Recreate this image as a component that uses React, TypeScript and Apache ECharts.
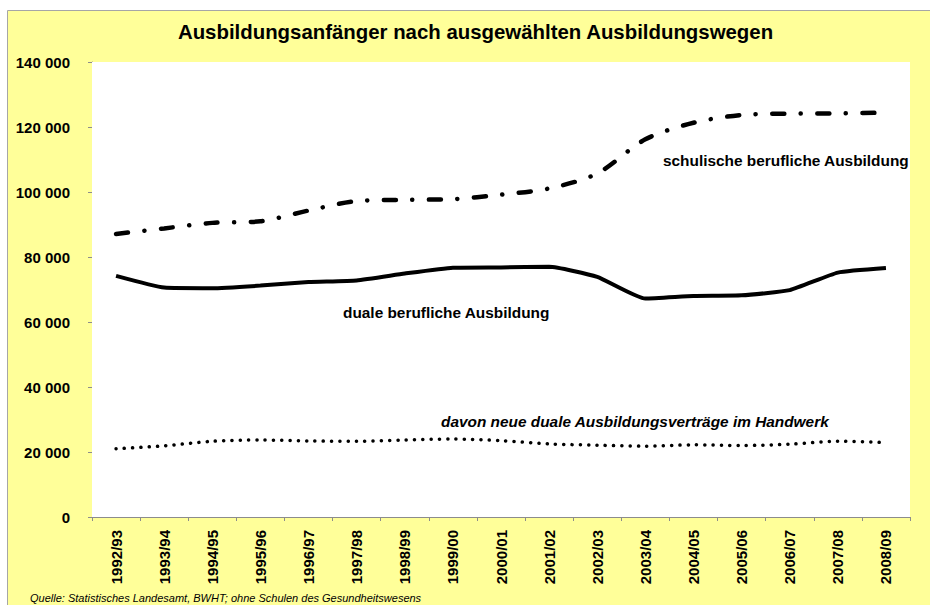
import React, { useEffect, useRef } from "react";
import * as echarts from "echarts";

const categories = [
  "1992/93", "1993/94", "1994/95", "1995/96", "1996/97", "1997/98", "1998/99", "1999/00",
  "2000/01", "2001/02", "2002/03", "2003/04", "2004/05", "2005/06", "2006/07", "2007/08", "2008/09",
];

const schulische = [87100, 88800, 90500, 91000, 94300, 97200, 97600, 97800, 99200, 101100, 105700, 116200, 121300, 123700, 124100, 124200, 124400];
const duale = [74200, 70600, 70400, 71200, 72300, 72800, 74900, 76700, 76800, 77000, 73900, 67200, 68000, 68200, 69800, 75200, 76600];
const handwerk = [21000, 21900, 23300, 23700, 23400, 23300, 23700, 24000, 23500, 22500, 22100, 21800, 22200, 22000, 22400, 23300, 22900];

const yMin = 0;
const yMax = 140000;
const yStep = 20000;

const titleText = "Ausbildungsanfänger nach ausgewählten Ausbildungswegen";
const sourceText = "Quelle: Statistisches Landesamt, BWHT; ohne Schulen des Gesundheitswesens";
const labelSchulisch = "schulische berufliche Ausbildung";
const labelDual = "duale berufliche Ausbildung";
const labelHandwerk = "davon neue duale Ausbildungsverträge im Handwerk";

const FONT = "'Liberation Sans', Arial, sans-serif";

export default function App() {
  const ref = useRef<HTMLDivElement>(null);

  useEffect(() => {
    if (!ref.current) return;
    const chart = echarts.init(ref.current, null, { renderer: "svg" });
    const fmt = (v: number) => String(v).replace(/\B(?=(\d{3})+(?!\d))/g, " ");
    chart.setOption({
      animation: false,
      backgroundColor: "#ffffff",
      textStyle: { fontFamily: FONT },
      grid: {
        left: 92,
        right: 20,
        top: 62,
        bottom: 88,
        show: true,
        backgroundColor: "#ffffff",
        borderWidth: 0,
        z: 1,
      },
      xAxis: {
        type: "category",
        data: categories,
        boundaryGap: true,
        axisLine: { show: true, lineStyle: { color: "#8c8c8c", width: 1 } },
        axisTick: { show: true, length: 4, lineStyle: { color: "#8c8c8c" } },
        axisLabel: {
          rotate: 90,
          margin: 13,
          color: "#000",
          fontWeight: "bold",
          fontSize: 15,
          fontFamily: FONT,
          interval: 0,
        },
        splitLine: { show: false },
      },
      yAxis: {
        type: "value",
        min: yMin,
        max: yMax,
        interval: yStep,
        axisLine: { show: true, lineStyle: { color: "#8c8c8c", width: 1 } },
        axisTick: { show: true, length: 4, lineStyle: { color: "#8c8c8c" } },
        axisLabel: {
          margin: 22,
          color: "#000",
          fontWeight: "bold",
          fontSize: 15,
          fontFamily: FONT,
          formatter: (v: number) => fmt(v),
        },
        splitLine: { show: true, lineStyle: { color: "#8c8c8c", width: 1 } },
      },
      series: [
        {
          name: labelSchulisch,
          type: "line",
          data: schulische,
          smooth: 0.3,
          symbol: "none",
          lineStyle: { color: "#000", width: 4.5, type: [12, 16.5, 0.1, 16.5], cap: "round" },
          z: 3,
        },
        {
          name: labelDual,
          type: "line",
          data: duale,
          smooth: 0.15,
          symbol: "none",
          lineStyle: { color: "#000", width: 4, type: "solid" },
          z: 3,
        },
        {
          name: labelHandwerk,
          type: "line",
          data: handwerk,
          smooth: 0.3,
          symbol: "none",
          lineStyle: { color: "#000", width: 3.5, type: [0.1, 8.2], cap: "round" },
          z: 3,
        },
      ],
      graphic: [
        {
          type: "rect",
          z: -10,
          silent: true,
          shape: { x: 7.5, y: 10.5, width: 1000, height: 700 },
          style: { fill: "#FFFF99", stroke: "#A6A6A6", lineWidth: 1 },
        },
        {
          type: "text",
          x: 475.5,
          y: 32,
          style: {
            text: titleText,
            font: `bold 20.4px ${FONT}`,
            fill: "#000",
            textAlign: "center",
            textVerticalAlign: "middle",
          },
        },
        {
          type: "text",
          x: 663,
          y: 160,
          z: 10,
          style: {
            text: labelSchulisch,
            font: `bold 15.4px ${FONT}`,
            fill: "#000",
            textAlign: "left",
            textVerticalAlign: "middle",
          },
        },
        {
          type: "text",
          x: 343,
          y: 312,
          z: 10,
          style: {
            text: labelDual,
            font: `bold 15.4px ${FONT}`,
            fill: "#000",
            textAlign: "left",
            textVerticalAlign: "middle",
          },
        },
        {
          type: "text",
          x: 441,
          y: 421,
          z: 10,
          style: {
            text: labelHandwerk,
            font: `italic bold 15.4px ${FONT}`,
            fill: "#000",
            textAlign: "left",
            textVerticalAlign: "middle",
          },
        },
        {
          type: "text",
          x: 30,
          y: 598,
          style: {
            text: sourceText,
            font: `italic 11px ${FONT}`,
            fill: "#000",
            textAlign: "left",
            textVerticalAlign: "middle",
          },
        },
      ],
    });
    return () => chart.dispose();
  }, []);

  return (
    <div
      ref={ref}
      style={{ position: "fixed", left: 0, top: 0, width: 930, height: 605 }}
    />
  );
}
